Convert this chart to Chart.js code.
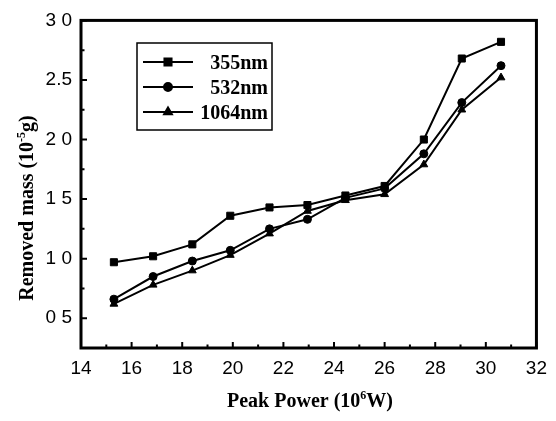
<!DOCTYPE html>
<html><head><meta charset="utf-8">
<script src="https://cdn.jsdelivr.net/npm/chart.js@4"></script>
<style>html,body{margin:0;padding:0;background:#fff}#wrap{width:556px;height:421px}</style>
</head><body><div id="wrap"><canvas id="c" width="556" height="421"></canvas></div>
<script>
const peakPower = [15.3, 16.85, 18.4, 19.9, 21.45, 22.95, 24.45, 26.0, 27.55, 29.05, 30.6];
const mass355 = [0.97, 1.02, 1.12, 1.36, 1.43, 1.45, 1.53, 1.61, 2.0, 2.68, 2.82];
const mass532 = [0.66, 0.85, 0.98, 1.07, 1.25, 1.33, 1.51, 1.59, 1.88, 2.31, 2.62];
const mass1064 = [0.62, 0.78, 0.90, 1.03, 1.21, 1.40, 1.49, 1.54, 1.79, 2.25, 2.52];
const seriesLabels = ['355nm', '532nm', '1064nm'];
const xTickValues = [14, 16, 18, 20, 22, 24, 26, 28, 30, 32];
const xMinorValues = [15, 17, 19, 21, 23, 25, 27, 29, 31];
const yTickValues = [0.5, 1.0, 1.5, 2.0, 2.5, 3.0];
const yTickLabels = ['0 5', '1 0', '1 5', '2 0', '2.5', '3 0'];
const yMinorValues = [0.75, 1.25, 1.75, 2.25, 2.75];

function pts(ys) { return peakPower.map((x, i) => ({x: x, y: ys[i]})); }

const styles = [
  {pointStyle: 'rect', pointRadius: 5},
  {pointStyle: 'circle', pointRadius: 4},
  {pointStyle: 'triangle', pointRadius: 4.5}
];
const allSeries = [mass355, mass532, mass1064];

const datasets = allSeries.map((ys, i) => ({
  label: seriesLabels[i],
  data: pts(ys),
  borderColor: '#000',
  backgroundColor: '#000',
  borderWidth: 2,
  pointStyle: styles[i].pointStyle,
  pointRadius: styles[i].pointRadius,
  pointBorderWidth: 1,
  tension: 0
}));

const framePlugin = {
  id: 'frame',
  afterDraw(chart) {
    const ctx = chart.ctx, a = chart.chartArea;
    const xs = chart.scales.x, ys = chart.scales.y;
    ctx.save();
    ctx.strokeStyle = '#000';
    ctx.lineWidth = 2;
    ctx.beginPath();
    xTickValues.forEach(v => { const p = xs.getPixelForValue(v); ctx.moveTo(p, a.bottom); ctx.lineTo(p, a.bottom - 6); });
    xMinorValues.forEach(v => { const p = xs.getPixelForValue(v); ctx.moveTo(p, a.bottom); ctx.lineTo(p, a.bottom - 3.5); });
    yTickValues.forEach(v => { const p = ys.getPixelForValue(v); ctx.moveTo(a.left, p); ctx.lineTo(a.left + 6, p); });
    yMinorValues.forEach(v => { const p = ys.getPixelForValue(v); ctx.moveTo(a.left, p); ctx.lineTo(a.left + 3.5, p); });
    ctx.stroke();
    ctx.lineWidth = 3;
    ctx.strokeRect(a.left, a.top, a.right - a.left, a.bottom - a.top);

    // legend
    ctx.lineWidth = 1.5;
    ctx.strokeRect(137, 43, 135, 87);
    const rows = [62, 87, 112];
    chart.data.datasets.forEach((ds, i) => {
      const y = rows[i];
      ctx.lineWidth = 2;
      ctx.beginPath(); ctx.moveTo(143, y); ctx.lineTo(193, y); ctx.stroke();
      ctx.fillStyle = '#000';
      Chart.helpers.drawPoint(ctx, {pointStyle: ds.pointStyle, radius: ds.pointRadius, rotation: 0, borderWidth: 1}, 168, y);
      ctx.fill();
      ctx.font = 'bold 20px "Liberation Serif", "Times New Roman", serif';
      ctx.textAlign = 'right';
      ctx.textBaseline = 'alphabetic';
      ctx.fillText(ds.label, 268, y + 7);
    });

    ctx.fillStyle = '#000';
    ctx.textBaseline = 'alphabetic';
    ctx.textAlign = 'left';
    const big = 'bold 20px "Liberation Serif", "Times New Roman", serif';
    const small = 'bold 12px "Liberation Serif", "Times New Roman", serif';
    function drawSup(parts, cx, by) {
      let w = 0;
      parts.forEach(p => { ctx.font = p.sup ? small : big; w += ctx.measureText(p.t).width; });
      let x = cx - w / 2;
      parts.forEach(p => { ctx.font = p.sup ? small : big; ctx.fillText(p.t, x, p.sup ? by - 8 : by); x += ctx.measureText(p.t).width; });
    }
    drawSup([{t: 'Peak Power (10'}, {t: '6', sup: true}, {t: 'W)'}], 310, 407);
    ctx.save();
    ctx.translate(33, 208);
    ctx.rotate(-Math.PI / 2);
    drawSup([{t: 'Removed mass (10'}, {t: '-5', sup: true}, {t: 'g)'}], 0, 0);
    ctx.restore();
    ctx.restore();
  }
};

new Chart(document.getElementById('c'), {
  type: 'line',
  data: {datasets: datasets},
  options: {
    responsive: false,
    animation: false,
    devicePixelRatio: 1,
    layout: {padding: {left: 0, top: 17, right: 15, bottom: 0}},
    plugins: {legend: {display: false}, tooltip: {enabled: false}},
    scales: {
      x: {
        type: 'linear', min: 14, max: 32,
        afterBuildTicks: s => { s.ticks = xTickValues.map(v => ({value: v})); },
        afterFit: s => { s.height = 73; },
        grid: {display: false, drawTicks: false},
        border: {display: false},
        ticks: {color: '#000', padding: 9, maxRotation: 0, autoSkip: false,
          font: {family: '"Liberation Sans", Arial, sans-serif', size: 19}}
      },
      y: {
        type: 'linear', min: 0.25, max: 3.0,
        afterBuildTicks: s => { s.ticks = yTickValues.map(v => ({value: v})); },
        afterFit: s => { s.width = 81; },
        grid: {display: false, drawTicks: false},
        border: {display: false},
        ticks: {color: '#000', padding: 9, autoSkip: false,
          callback: v => { const i = yTickValues.indexOf(v); return i >= 0 ? yTickLabels[i] : ''; },
          font: {family: '"Liberation Sans", Arial, sans-serif', size: 19}}
      }
    }
  },
  plugins: [framePlugin]
});
</script></body></html>
